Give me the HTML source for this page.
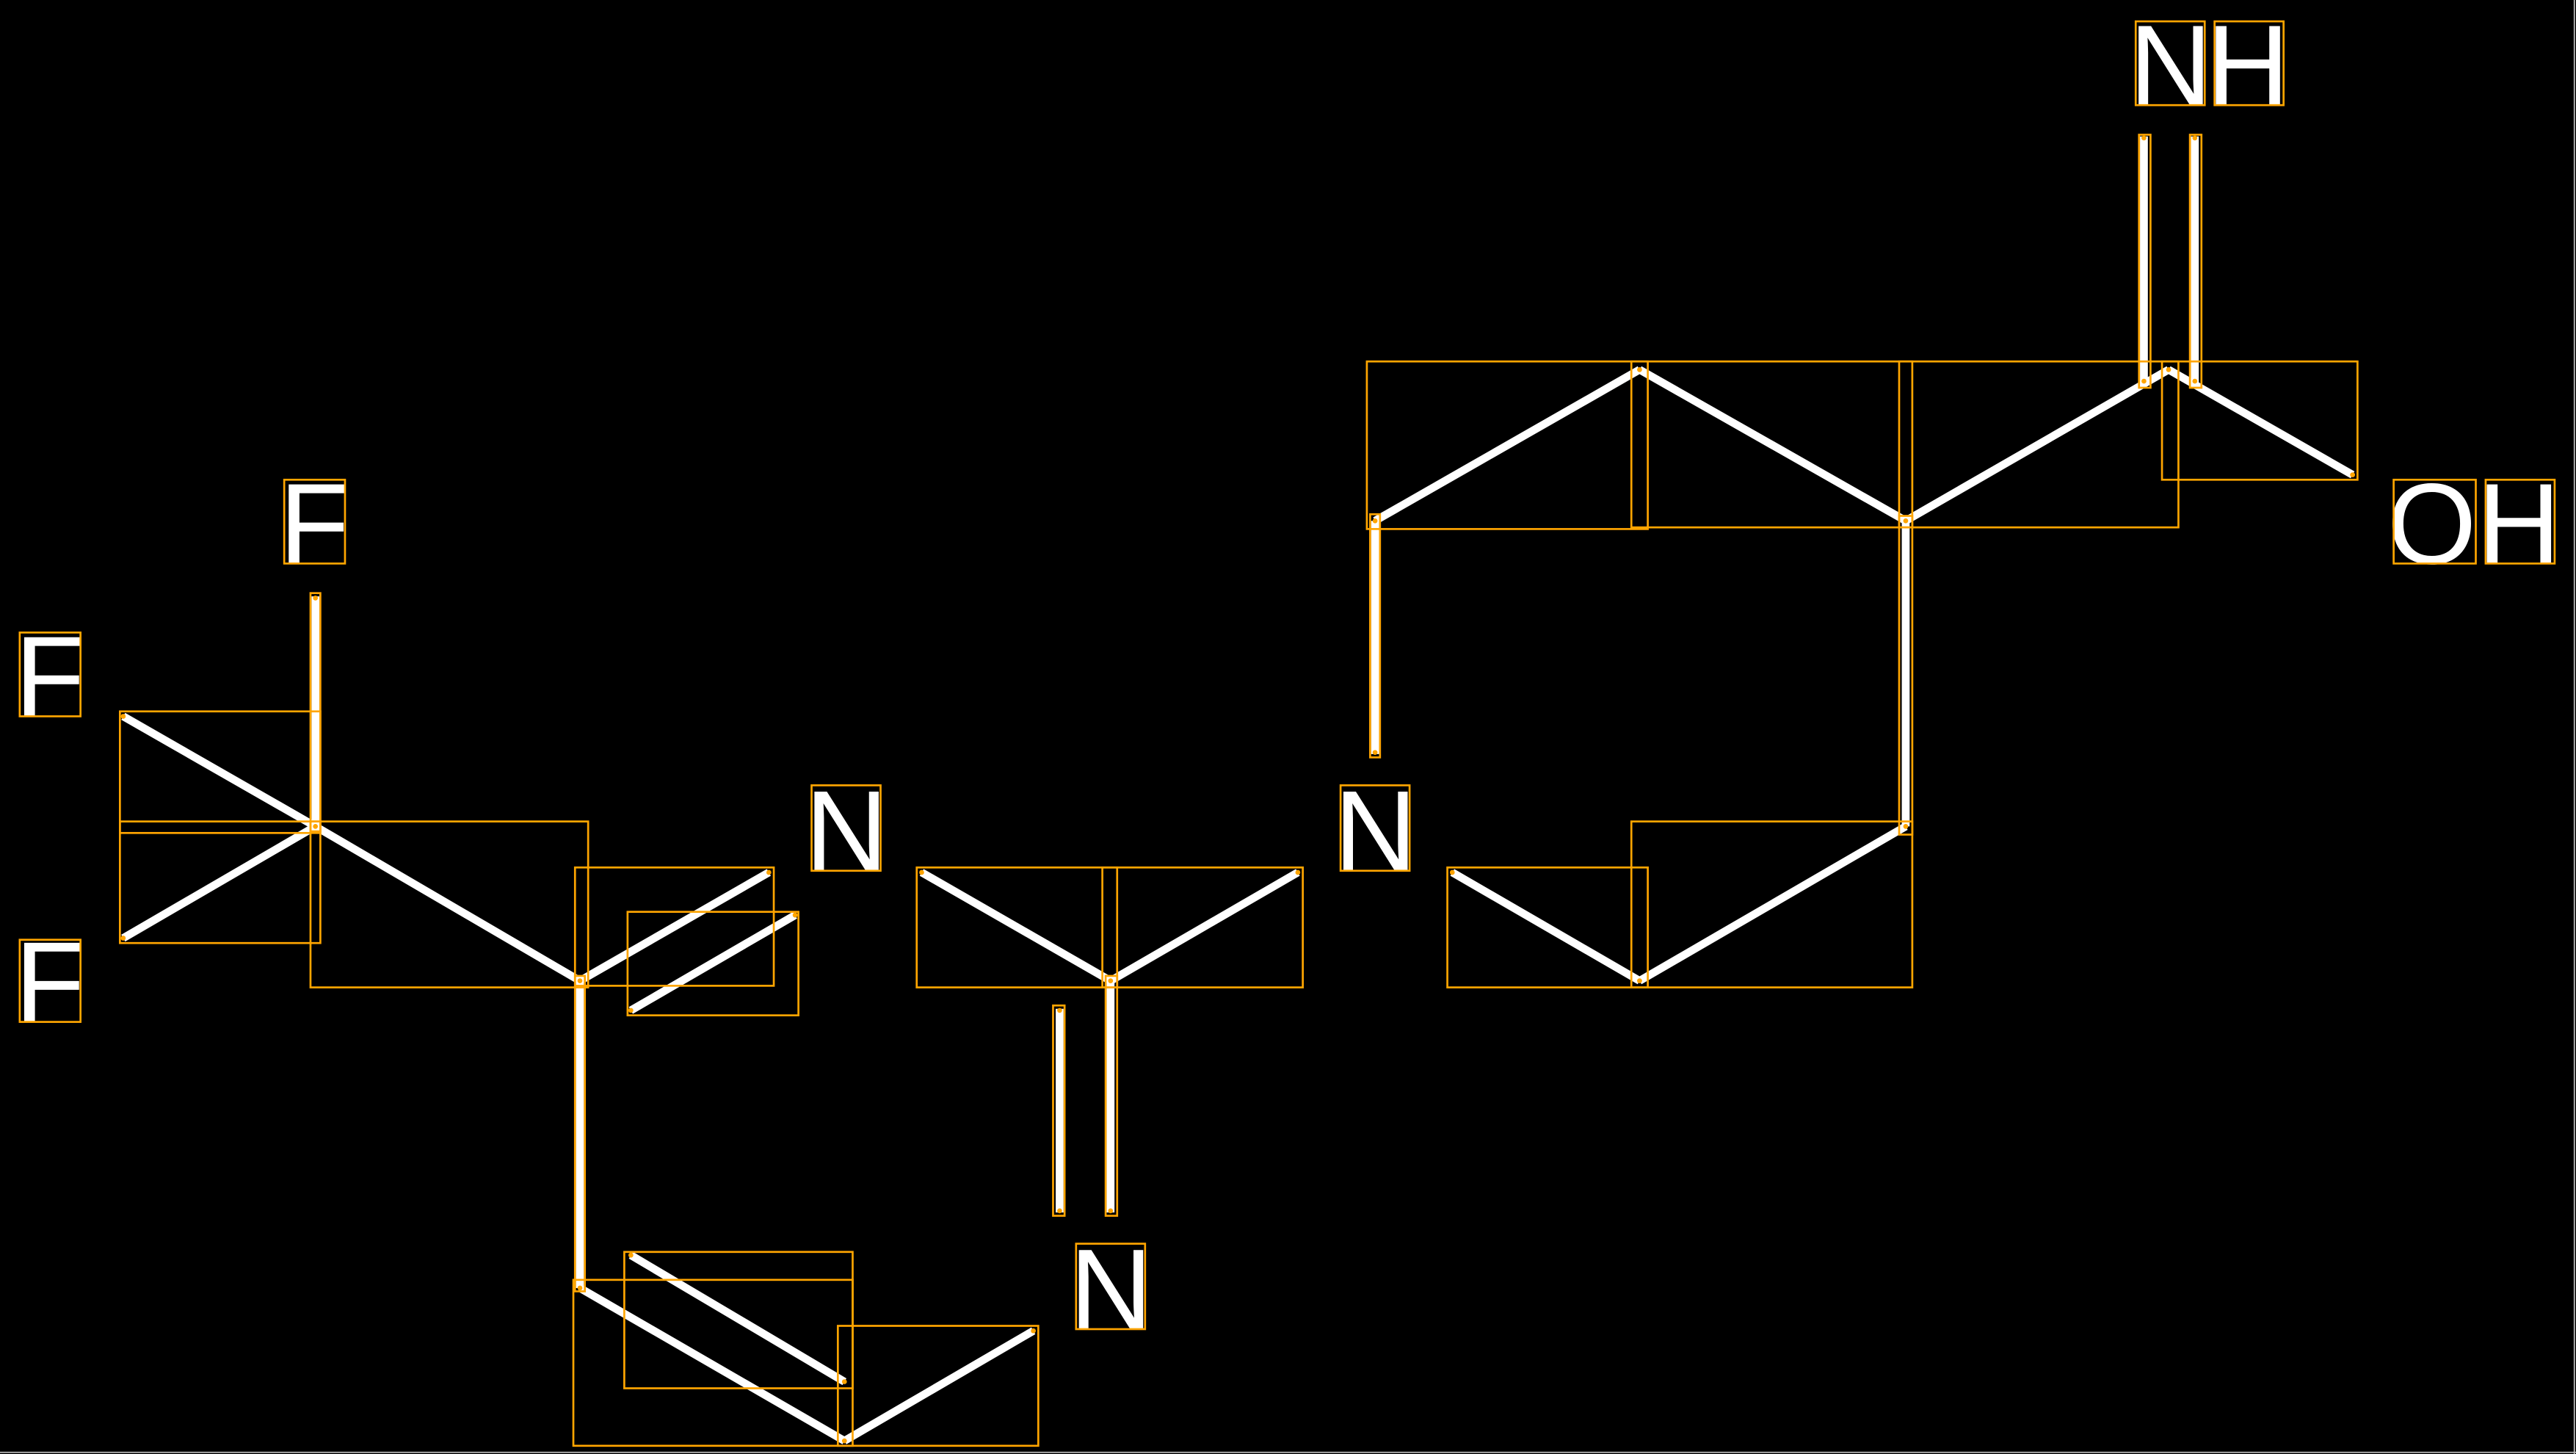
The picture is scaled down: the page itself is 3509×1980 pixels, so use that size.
<!DOCTYPE html>
<html><head><meta charset="utf-8"><style>
html,body{margin:0;padding:0;background:#000;width:3509px;height:1980px;overflow:hidden}
svg{display:block}
</style></head><body>
<svg width="3509" height="1980" viewBox="0 0 1568 885" preserveAspectRatio="none" xmlns="http://www.w3.org/2000/svg">
<rect x="0" y="0" width="1568" height="885" fill="#000"/>
<line x1="1567" y1="0" x2="1567" y2="885" stroke="#bbb" stroke-width="0.8"/>
<line x1="0" y1="884" x2="1568" y2="884" stroke="#bbb" stroke-width="0.8"/>
<g stroke="#fff" stroke-width="4.8" stroke-linecap="butt" fill="none">
<line x1="192" y1="363" x2="192" y2="503"/>
<line x1="75" y1="436" x2="192" y2="503"/>
<line x1="75" y1="571" x2="192" y2="503"/>
<line x1="192" y1="503" x2="353" y2="597"/>
<line x1="353" y1="597" x2="468" y2="531"/>
<line x1="384" y1="615" x2="484" y2="557"/>
<line x1="353" y1="597" x2="353" y2="784"/>
<line x1="353" y1="784" x2="514" y2="877"/>
<line x1="384" y1="764" x2="514" y2="841"/>
<line x1="514" y1="877" x2="629" y2="810"/>
<line x1="561" y1="531" x2="676" y2="597"/>
<line x1="676" y1="597" x2="790" y2="531"/>
<line x1="676" y1="597" x2="676" y2="738"/>
<line x1="645" y1="614" x2="645" y2="738"/>
<line x1="884" y1="531" x2="998" y2="597"/>
<line x1="998" y1="597" x2="1160" y2="503"/>
<line x1="1160" y1="503" x2="1160" y2="317"/>
<line x1="837" y1="317" x2="837" y2="459"/>
<line x1="837" y1="317" x2="998" y2="225"/>
<line x1="998" y1="225" x2="1160" y2="317"/>
<line x1="1160" y1="317" x2="1320" y2="225"/>
<line x1="1320" y1="225" x2="1432" y2="289"/>
<line x1="1305" y1="83" x2="1305" y2="233"/>
<line x1="1336" y1="83" x2="1336" y2="233"/>
</g>
<g fill="#fff" font-family="'Liberation Sans', sans-serif" font-size="70">
<text x="170" y="343">F</text>
<text x="9" y="436">F</text>
<text x="9" y="622">F</text>
<text x="490" y="530">N</text>
<text x="812" y="530">N</text>
<text x="651" y="809">N</text>
<text x="1296" y="64">N</text>
<text x="1343" y="64">H</text>
<text x="1453" y="343">O</text>
<text x="1508" y="343">H</text>
</g>
<g stroke="#ffa500" stroke-width="1.2" fill="none">
<rect x="173" y="292" width="37" height="51"/>
<rect x="12" y="385" width="37" height="51"/>
<rect x="12" y="572" width="37" height="50"/>
<rect x="494" y="478" width="42" height="52"/>
<rect x="816" y="478" width="42" height="52"/>
<rect x="655" y="757" width="42" height="52"/>
<rect x="1300" y="13" width="42" height="51"/>
<rect x="1348" y="13" width="42" height="51"/>
<rect x="1457" y="292" width="50" height="51"/>
<rect x="1513" y="292" width="42" height="51"/>
<rect x="189" y="361" width="6" height="145"/>
<rect x="73" y="433" width="122" height="74"/>
<rect x="73" y="500" width="122" height="74"/>
<rect x="189" y="500" width="169" height="101"/>
<rect x="350" y="528" width="121" height="72"/>
<rect x="382" y="555" width="104" height="63"/>
<rect x="350" y="594" width="6" height="192"/>
<rect x="349" y="779" width="170" height="101"/>
<rect x="380" y="762" width="139" height="83"/>
<rect x="510" y="807" width="122" height="73"/>
<rect x="558" y="528" width="122" height="73"/>
<rect x="671" y="528" width="122" height="73"/>
<rect x="641" y="612" width="7" height="128"/>
<rect x="673" y="594" width="7" height="146"/>
<rect x="881" y="528" width="122" height="73"/>
<rect x="993" y="500" width="171" height="101"/>
<rect x="1156" y="314" width="8" height="194"/>
<rect x="834" y="313" width="6" height="148"/>
<rect x="832" y="220" width="171" height="102"/>
<rect x="993" y="220" width="171" height="101"/>
<rect x="1156" y="220" width="170" height="101"/>
<rect x="1316" y="220" width="119" height="72"/>
<rect x="1302" y="82" width="7" height="154"/>
<rect x="1333" y="82" width="7" height="154"/>
</g>
<g fill="#ffa500">
<circle cx="192" cy="364" r="1.5"/><circle cx="192" cy="503" r="1.5"/>
<circle cx="75" cy="436" r="1.5"/><circle cx="75" cy="571" r="1.5"/>
<circle cx="353" cy="597" r="1.5"/><circle cx="468" cy="531" r="1.5"/>
<circle cx="384" cy="615" r="1.5"/><circle cx="484" cy="557" r="1.5"/>
<circle cx="353" cy="784" r="1.5"/><circle cx="514" cy="877" r="1.5"/>
<circle cx="384" cy="764" r="1.5"/><circle cx="514" cy="841" r="1.5"/>
<circle cx="629" cy="810" r="1.5"/><circle cx="561" cy="531" r="1.5"/>
<circle cx="676" cy="597" r="1.5"/><circle cx="790" cy="531" r="1.5"/>
<circle cx="676" cy="737" r="1.5"/><circle cx="645" cy="615" r="1.5"/><circle cx="645" cy="737" r="1.5"/>
<circle cx="884" cy="531" r="1.5"/><circle cx="998" cy="597" r="1.5"/>
<circle cx="1160" cy="503" r="1.5"/><circle cx="1160" cy="317" r="1.5"/>
<circle cx="837" cy="317" r="1.5"/><circle cx="837" cy="458" r="1.5"/>
<circle cx="998" cy="225" r="1.5"/><circle cx="1320" cy="225" r="1.5"/>
<circle cx="1432" cy="289" r="1.5"/>
<circle cx="1305" cy="84" r="1.5"/><circle cx="1305" cy="232" r="1.5"/>
<circle cx="1336" cy="84" r="1.5"/><circle cx="1336" cy="232" r="1.5"/>
</g>
</svg>
</body></html>
